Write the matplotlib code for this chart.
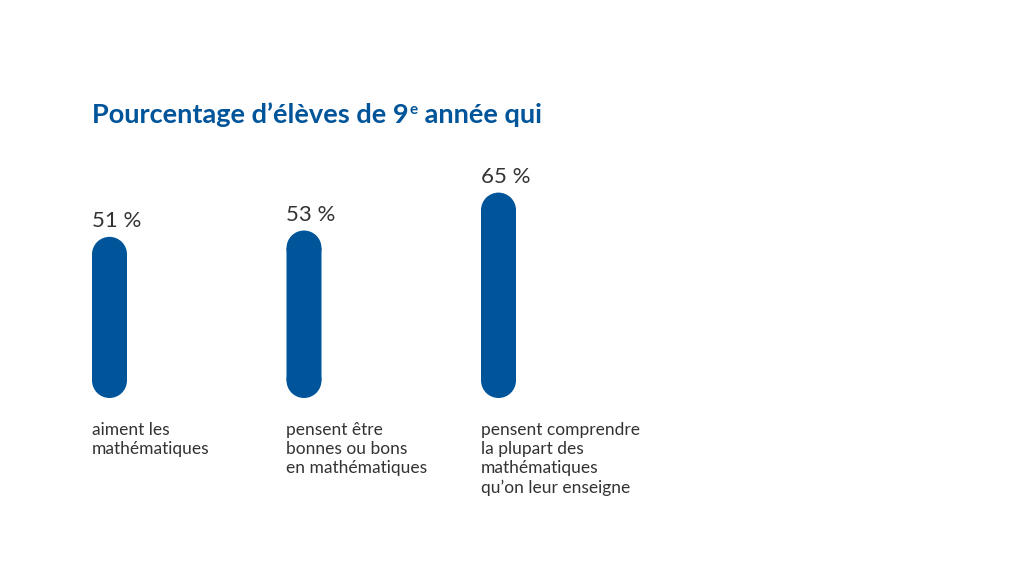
import matplotlib.pyplot as plt
from matplotlib.patches import Rectangle, Ellipse

# Data
categories = [
    "aiment les\nmathématiques",
    "pensent être\nbonnes ou bons\nen mathématiques",
    "pensent comprendre\nla plupart des\nmathématiques\nqu’on leur enseigne",
]
values = [51, 53, 65]
value_labels = ["51 %", "53 %", "65 %"]
title_parts = ["Pourcentage d’élèves de 9", "e", " année qui"]

BLUE = "#00549A"
TEXT = "#333333"
FONT = "Lato"

W, H, DPI = 1024, 576, 100
fig = plt.figure(figsize=(W / DPI, H / DPI), dpi=DPI, facecolor="white")
ax = fig.add_axes([0, 0, 1, 1])
ax.set_axis_off()

# layout: pixel geometry of the category axis
px_per_cat = 194.5
first_center_px = 109.5
px_per_pct = 3.16
base_px = H - 398
ax.set_xlim(-first_center_px / px_per_cat, (W - first_center_px) / px_per_cat)
ax.set_ylim(-base_px / px_per_pct, (H - base_px) / px_per_pct)

bar_w = 35 / px_per_cat
cap_h = 35 / px_per_pct   # cap diameter in % units (circle in pixels)

for i, (v, lab, cat) in enumerate(zip(values, value_labels, categories)):
    left = i - bar_w / 2
    # pill = rectangle + two round caps
    ax.add_patch(Rectangle((left, cap_h / 2), bar_w, v - cap_h,
                           facecolor=BLUE, edgecolor="none", snap=False))
    ax.add_patch(Ellipse((i, cap_h / 2), bar_w, cap_h,
                         facecolor=BLUE, edgecolor="none", snap=False))
    ax.add_patch(Ellipse((i, v - cap_h / 2), bar_w, cap_h,
                         facecolor=BLUE, edgecolor="none", snap=False))
    ax.annotate(lab, (left, v), xytext=(0, 7), textcoords="offset points",
                ha="left", va="baseline", fontsize=16, color=TEXT,
                family=FONT)
    ax.annotate(cat, (left, 0), xytext=(0, -17), textcoords="offset points",
                ha="left", va="top", fontsize=12.5, color=TEXT,
                family=FONT, linespacing=1.25)

# title with a superscript "e"
renderer = fig.canvas.get_renderer()
tx, ty = 92 / W, (H - 123) / H
t1 = fig.text(tx, ty, title_parts[0], fontsize=19.5, fontweight="bold",
              color=BLUE, family=FONT, va="baseline")
bb = t1.get_window_extent(renderer)
t2 = fig.text(bb.x1 / W + 1 / W, ty + 9 / H, title_parts[1], fontsize=11,
              fontweight="bold", color=BLUE, family=FONT, va="baseline")
bb2 = t2.get_window_extent(renderer)
fig.text(bb2.x1 / W, ty, title_parts[2], fontsize=19.5, fontweight="bold",
         color=BLUE, family=FONT, va="baseline")

fig.savefig("out.png", dpi=DPI, facecolor="white")
